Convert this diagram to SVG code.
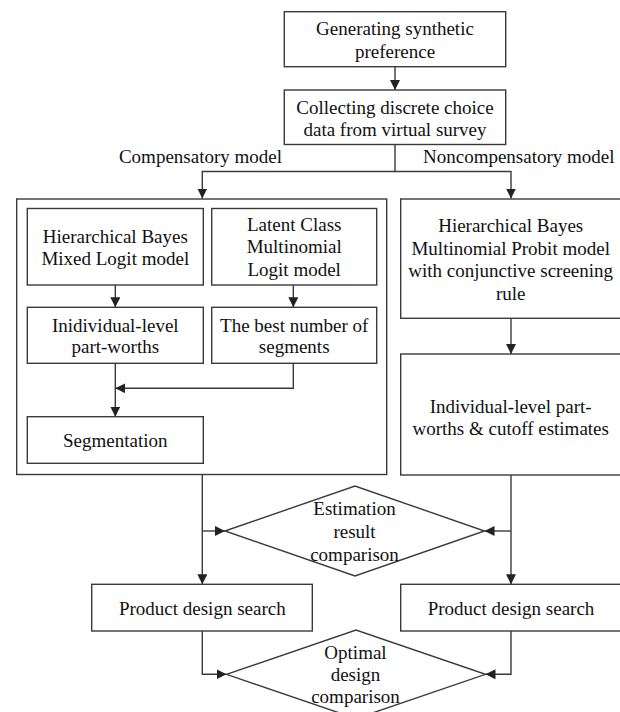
<svg xmlns="http://www.w3.org/2000/svg" width="620" height="712" viewBox="0 0 620 712">
<defs>
<marker id="ah" markerUnits="userSpaceOnUse" markerWidth="11" markerHeight="10" refX="10" refY="5" orient="auto">
<path d="M0,0 L10,5 L0,10 z" fill="#222"/>
</marker>
<style>
.b{fill:#fff;stroke:#3a3a3a;stroke-width:1.4}
.c{fill:none;stroke:#3a3a3a;stroke-width:1.4}
.a{marker-end:url(#ah)}
text{font-family:"Liberation Serif","Times New Roman",serif;font-size:19px;fill:#111;text-anchor:middle}
</style>
</defs>
<rect width="620" height="712" fill="#fff"/>
<g id="connectors">
<path class="c a" d="M395,66.7 V90"/>
<path class="c a" d="M395,144.5 V171.5 H202.3 V198.5"/>
<path class="c a" d="M395,171.5 H511 V198.5"/>
<path class="c a" d="M115.3,285 V307.3"/>
<path class="c a" d="M293.3,285 V307.3"/>
<path class="c a" d="M293.3,363.3 V388.3 H115.3"/>
<path class="c a" d="M115.3,363.3 V416.7"/>
<path class="c a" d="M511,318.3 V354"/>
<path class="c a" d="M202.3,474.5 V584.3"/>
<path class="c a" d="M202.3,531 H225"/>
<path class="c a" d="M511,475 V584.3"/>
<path class="c a" d="M511,531 H484.5"/>
<path class="c a" d="M202.3,631 V674.3 H226.5"/>
<path class="c a" d="M511,631 V674.3 H485.5"/>
</g>
<g id="n1"><rect class="b" x="284.3" y="11.7" width="221.4" height="55"/>
<text x="395" y="35">Generating synthetic</text><text x="395" y="57.5">preference</text></g>
<g id="n2"><rect class="b" x="284.3" y="90" width="221.4" height="54.5"/>
<text x="395" y="113.5">Collecting discrete choice</text><text x="395" y="136">data from virtual survey</text></g>
<g id="lbl"><text x="282" y="163" style="text-anchor:end">Compensatory model</text>
<text x="423" y="163" style="text-anchor:start">Noncompensatory model</text></g>
<g id="comp"><rect class="b" x="16.7" y="199" width="370" height="275.5" style="fill:none"/></g>
<g id="hbml"><rect class="b" x="27.3" y="208.5" width="176" height="76.5"/>
<text x="115.3" y="243.3">Hierarchical Bayes</text><text x="115.3" y="265">Mixed Logit model</text></g>
<g id="lcml"><rect class="b" x="211.7" y="208.5" width="165" height="76.5"/>
<text x="294.2" y="230.7">Latent Class</text><text x="294.2" y="253.3">Multinomial</text><text x="294.2" y="276">Logit model</text></g>
<g id="ind"><rect class="b" x="27.3" y="307.3" width="176" height="56"/>
<text x="115.3" y="331.7">Inidividual-level</text><text x="115.3" y="353.3">part-worths</text></g>
<g id="best"><rect class="b" x="211.7" y="307.3" width="165" height="56"/>
<text x="294.2" y="331.7">The best number of</text><text x="294.2" y="353.3">segments</text></g>
<g id="seg"><rect class="b" x="27.3" y="416.7" width="176" height="46.6"/>
<text x="115.3" y="446.7">Segmentation</text></g>
<g id="hbmp"><rect class="b" x="400.7" y="199" width="225" height="119.3"/>
<text x="510.7" y="231.7">Hierarchical Bayes</text><text x="510.7" y="254.5">Multinomial Probit model</text><text x="510.7" y="277.3">with conjunctive screening</text><text x="510.7" y="299.5">rule</text></g>
<g id="indcut"><rect class="b" x="400.7" y="354" width="225" height="121"/>
<text x="510.7" y="413.3">Individual-level part-</text><text x="510.7" y="435">worths &amp; cutoff estimates</text></g>
<g id="est"><polygon class="b" points="225,531 355,486 484.5,531 355,576"/>
<text x="354.5" y="515">Estimation</text><text x="354.5" y="537.7">result</text><text x="354.5" y="560.7">comparison</text></g>
<g id="pds1"><rect class="b" x="91.7" y="584.3" width="220.6" height="46.7"/>
<text x="202.3" y="615">Product design search</text></g>
<g id="pds2"><rect class="b" x="400.7" y="584.3" width="225" height="46.7"/>
<text x="511" y="615">Product design search</text></g>
<g id="opt"><polygon class="b" points="226.5,674.3 356,630 485.5,674.3 356,718.6"/>
<text x="355.5" y="659.3">Optimal</text><text x="355.5" y="681">design</text><text x="355.5" y="703.3">comparison</text></g>
</svg>
